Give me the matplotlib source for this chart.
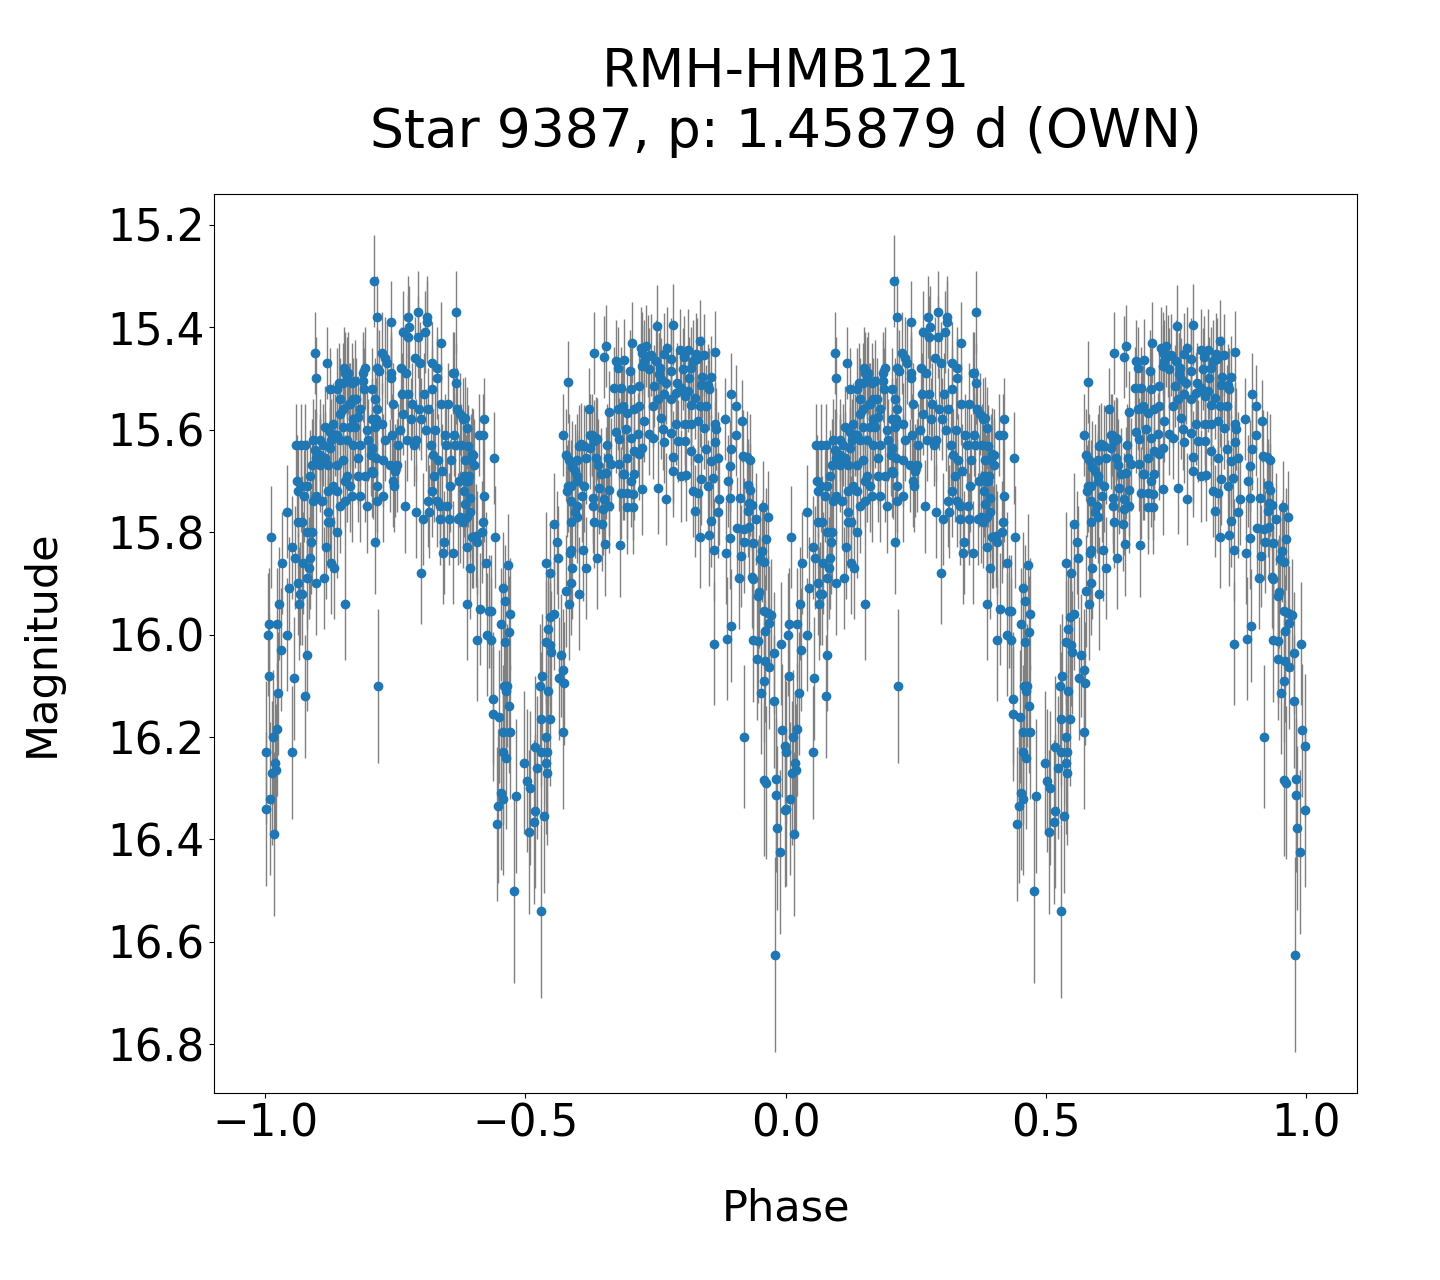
import numpy as np
import matplotlib
matplotlib.use('Agg')
import matplotlib.pyplot as plt
from matplotlib.ticker import MultipleLocator

# phase-folded light curve, one cycle (0..1); plotted twice (phase-1 and phase)
phase = [
    # 0.00-0.05
    0.001, 0.001, 0.004, 0.006, 0.006, 0.008, 0.010, 0.012, 0.014, 0.017, 0.019,
    0.021, 0.023, 0.023, 0.025, 0.027, 0.029, 0.031, 0.041, 0.042, 0.046,
    # 0.05-0.10
    0.052, 0.052, 0.054, 0.056, 0.058, 0.060, 0.062, 0.062, 0.062, 0.064, 0.066,
    0.068, 0.069, 0.071, 0.071, 0.073, 0.075, 0.077, 0.077, 0.079, 0.079, 0.079,
    0.080, 0.083, 0.085, 0.085, 0.087, 0.089, 0.090, 0.091, 0.091, 0.095, 0.095,
    0.097, 0.098, 0.098, 0.098,
    # 0.10-0.15
    0.104, 0.104, 0.104, 0.108, 0.110, 0.112, 0.114, 0.114, 0.116, 0.118, 0.120,
    0.120, 0.120, 0.120, 0.124, 0.124, 0.124, 0.125, 0.126, 0.127, 0.130, 0.130,
    0.132, 0.134, 0.137, 0.137, 0.137, 0.137, 0.137, 0.141, 0.143, 0.143, 0.143,
    0.143, 0.149, 0.149, 0.149, 0.149,
    # 0.15-0.20
    0.151, 0.153, 0.153, 0.153, 0.153, 0.156, 0.156, 0.156, 0.158, 0.160, 0.162,
    0.162, 0.162, 0.166, 0.166, 0.168, 0.168, 0.168, 0.172, 0.172, 0.175, 0.178,
    0.178, 0.178, 0.181, 0.181, 0.181, 0.187, 0.187, 0.189, 0.191, 0.191, 0.195,
    0.195, 0.197,
    # 0.20-0.25
    0.203, 0.204, 0.204, 0.204, 0.204, 0.206, 0.208, 0.210, 0.210, 0.210, 0.212,
    0.212, 0.214, 0.214, 0.214, 0.214, 0.214, 0.216, 0.218, 0.224, 0.225, 0.226,
    0.226, 0.230, 0.230, 0.233, 0.240, 0.241, 0.241, 0.241, 0.243, 0.245, 0.245,
    0.247, 0.249,
    # 0.25-0.30
    0.253, 0.255, 0.258, 0.260, 0.262, 0.265, 0.265, 0.268, 0.270, 0.272, 0.274,
    0.275, 0.275, 0.277, 0.280, 0.282, 0.285, 0.287, 0.290, 0.290, 0.294, 0.294,
    0.296, 0.298, 0.299,
    # 0.30-0.35
    0.300, 0.303, 0.305, 0.307, 0.308, 0.310, 0.311, 0.312, 0.313, 0.315, 0.318,
    0.320, 0.320, 0.320, 0.322, 0.325, 0.327, 0.330, 0.330, 0.330, 0.332, 0.335,
    0.336, 0.338, 0.338, 0.340, 0.342, 0.343, 0.345, 0.348,
    # 0.35-0.40
    0.350, 0.352, 0.353, 0.355, 0.357, 0.360, 0.361, 0.362, 0.363, 0.365, 0.367,
    0.367, 0.368, 0.370, 0.372, 0.374, 0.375, 0.377, 0.380, 0.380, 0.382, 0.382,
    0.383, 0.384, 0.384, 0.385, 0.387, 0.388, 0.388, 0.388, 0.390, 0.390, 0.392,
    0.394, 0.394, 0.394, 0.396, 0.397, 0.397, 0.399,
    # 0.40-0.45
    0.400, 0.401, 0.405, 0.407, 0.407, 0.410, 0.413, 0.417, 0.419, 0.419, 0.421,
    0.421, 0.425, 0.426, 0.429, 0.434, 0.434, 0.438, 0.438, 0.440, 0.442, 0.446,
    0.448,
    # 0.45-0.50
    0.450, 0.452, 0.453, 0.457, 0.457, 0.457, 0.457, 0.458, 0.460, 0.461, 0.463,
    0.463, 0.465, 0.467, 0.469, 0.469, 0.470, 0.471, 0.477, 0.481, 0.498,
    # 0.50-0.55
    0.502, 0.506, 0.508, 0.517, 0.519, 0.519, 0.523, 0.527, 0.529, 0.529, 0.529,
    0.531, 0.535, 0.539, 0.539, 0.539, 0.539, 0.542, 0.542, 0.544, 0.544, 0.547,
    0.547, 0.548, 0.548, 0.550,
    # 0.55-0.60
    0.554, 0.554, 0.560, 0.562, 0.564, 0.568, 0.573, 0.573, 0.573, 0.575, 0.577,
    0.577, 0.580, 0.581, 0.582, 0.583, 0.583, 0.585, 0.587, 0.587, 0.587, 0.587,
    0.587, 0.590, 0.590, 0.595, 0.595, 0.599,
    # 0.60-0.65
    0.600, 0.600, 0.600, 0.600, 0.602, 0.603, 0.606, 0.609, 0.610, 0.613, 0.613,
    0.616, 0.616, 0.622, 0.625, 0.625, 0.627, 0.629, 0.629, 0.631, 0.631, 0.632,
    0.635, 0.635, 0.637, 0.638, 0.640, 0.642, 0.645, 0.648, 0.650,
    # 0.65-0.70
    0.651, 0.651, 0.653, 0.654, 0.654, 0.657, 0.658, 0.660, 0.660, 0.661, 0.664,
    0.671, 0.674, 0.674, 0.677, 0.677, 0.680, 0.680, 0.682, 0.683, 0.683, 0.685,
    0.687, 0.687, 0.690, 0.690, 0.693, 0.696, 0.696, 0.696, 0.696,
    # 0.70-0.75
    0.701, 0.703, 0.703, 0.703, 0.705, 0.706, 0.706, 0.709, 0.709, 0.709, 0.716,
    0.719, 0.719, 0.719, 0.722, 0.725, 0.725, 0.725, 0.725, 0.728, 0.728, 0.732,
    0.736, 0.738, 0.738, 0.741, 0.745, 0.745, 0.748,
    # 0.75-0.80
    0.751, 0.752, 0.754, 0.755, 0.757, 0.759, 0.761, 0.761, 0.764, 0.766, 0.767,
    0.767, 0.770, 0.771, 0.772, 0.780, 0.780, 0.780, 0.780, 0.783, 0.783, 0.784,
    0.790, 0.790, 0.792, 0.793, 0.798, 0.799, 0.799,
    # 0.80-0.85
    0.802, 0.804, 0.806, 0.806, 0.806, 0.809, 0.812, 0.813, 0.815, 0.819, 0.819,
    0.819, 0.819, 0.822, 0.822, 0.825, 0.826, 0.828, 0.830, 0.831, 0.831, 0.831,
    0.835, 0.835, 0.836, 0.838, 0.838, 0.840, 0.844, 0.844, 0.848, 0.848,
    # 0.85-0.90
    0.851, 0.851, 0.852, 0.852, 0.856, 0.857, 0.857, 0.860, 0.862, 0.862, 0.864,
    0.864, 0.865, 0.867, 0.870, 0.870, 0.873, 0.883, 0.886, 0.888, 0.889, 0.893,
    0.893, 0.893, 0.895, 0.896, 0.896,
    # 0.90-0.95
    0.904, 0.905, 0.907, 0.910, 0.913, 0.915, 0.916, 0.918, 0.920, 0.920, 0.921,
    0.926, 0.928, 0.928, 0.929, 0.929, 0.931, 0.932, 0.935, 0.935, 0.937, 0.937,
    0.938, 0.943, 0.946, 0.947, 0.947, 0.949,
    # 0.95-1.00
    0.951, 0.953, 0.954, 0.956, 0.958, 0.958, 0.958, 0.959, 0.961, 0.961, 0.963,
    0.963, 0.967, 0.967, 0.969, 0.969, 0.973, 0.977, 0.978, 0.980, 0.982, 0.982,
    0.984, 0.989, 0.992, 0.994, 0.999, 0.999,
]

mag = [
    # 0.00-0.05
    16.34, 16.23, 16.00, 15.98, 16.08, 16.32, 15.81, 16.27, 16.20, 16.39, 16.25,
    16.265, 16.185, 15.98, 16.115, 15.94, 16.03, 15.86, 16.00, 15.76, 15.91,
    # 0.05-0.10
    16.23, 15.83, 16.085, 15.85, 15.63, 15.70, 15.78, 15.90, 15.72, 15.94, 15.92,
    15.71, 15.63, 15.78, 15.92, 15.86, 15.73, 15.63, 16.12, 15.80, 16.04, 15.71,
    15.89, 15.87, 15.85, 15.69, 15.82, 15.67, 15.80, 15.62, 15.74, 15.45, 15.64,
    15.50, 15.90, 15.655, 15.73,
    # 0.10-0.15
    15.65, 15.67, 15.62, 15.74, 15.63, 15.89, 15.655, 15.595, 15.83, 15.47, 15.78,
    15.67, 15.72, 15.76, 15.52, 15.635, 15.605, 15.78, 15.86, 15.62, 15.59, 15.71,
    15.87, 15.61, 15.80, 15.52, 15.61, 15.67, 15.72, 15.51, 15.54, 15.62, 15.57,
    15.75, 15.51, 15.595, 15.66, 15.56,
    # 0.15-0.20
    15.48, 15.94, 15.70, 15.74, 15.49, 15.62, 15.69, 15.50, 15.49, 15.55, 15.595,
    15.71, 15.55, 15.51, 15.73, 15.58, 15.63, 15.54, 15.505, 15.595, 15.54, 15.575,
    15.655, 15.69, 15.56, 15.63, 15.73, 15.49, 15.505, 15.52, 15.48, 15.69, 15.60,
    15.75, 15.62,
    # 0.20-0.25
    15.65, 15.52, 15.635, 15.58, 15.68, 15.685, 15.31, 15.82, 15.595, 15.54, 15.655,
    15.58, 15.38, 15.48, 15.56, 15.71, 15.74, 16.10, 15.485, 15.45, 15.59, 15.66,
    15.73, 15.46, 15.62, 15.47, 15.67, 15.39, 15.49, 15.50, 15.61, 15.70, 15.55,
    15.71, 15.68,
    # 0.25-0.30
    15.67, 15.63, 15.60, 15.48, 15.53, 15.41, 15.57, 15.75, 15.49, 15.62, 15.38,
    15.42, 15.53, 15.40, 15.58, 15.55, 15.63, 15.46, 15.76, 15.62, 15.37, 15.42,
    15.56, 15.47, 15.88,
    # 0.30-0.35
    15.58, 15.775, 15.53, 15.41, 15.60, 15.39, 15.38, 15.56, 15.74, 15.76, 15.63,
    15.47, 15.52, 15.72, 15.65, 15.69, 15.60, 15.48, 15.50, 15.74, 15.66, 15.75,
    15.775, 15.43, 15.55, 15.68, 15.84, 15.82, 15.61, 15.63,
    # 0.35-0.40
    15.75, 15.55, 15.775, 15.71, 15.66, 15.49, 15.84, 15.61, 15.49, 15.63, 15.37,
    15.51, 15.56, 15.775, 15.70, 15.57, 15.77, 15.63, 15.58, 15.78, 15.69, 15.72,
    15.578, 15.66, 15.745, 15.70, 15.596, 15.77, 15.83, 15.94, 15.632, 15.70, 15.69,
    15.76, 15.87, 15.734, 15.66, 15.81, 15.648, 15.81,
    # 0.40-0.45
    15.65, 15.67, 15.807, 15.82, 16.01, 15.61, 15.95, 15.80, 15.61, 15.78, 15.58,
    15.73, 15.86, 16.00, 15.955, 16.01, 15.955, 16.125, 16.155, 15.655, 15.81, 16.37,
    16.335,
    # 0.45-0.50
    16.16, 15.98, 16.31, 15.91, 16.19, 16.23, 16.32, 16.10, 15.935, 16.015, 16.11,
    16.24, 16.10, 15.865, 15.995, 16.14, 16.19, 15.96, 16.50, 16.315, 16.25,
    # 0.50-0.55
    16.285, 16.385, 16.30, 16.365, 16.345, 16.22, 16.26, 16.10, 16.23, 16.54, 16.165,
    16.08, 16.355, 16.25, 16.20, 16.015, 15.86, 16.27, 16.23, 16.11, 15.99, 16.165,
    15.965, 16.02, 15.88, 16.035,
    # 0.55-0.60
    15.96, 15.785, 15.82, 15.85, 16.085, 16.04, 16.07, 16.19, 15.61, 16.095, 15.915,
    15.649, 15.72, 15.71, 15.508, 15.94, 15.66, 15.84, 15.90, 15.835, 15.78, 15.74,
    15.71, 15.87, 15.673, 15.76, 15.68, 15.75,
    # 0.60-0.65
    15.77, 15.69, 15.70, 15.66, 15.92, 15.632, 15.628, 15.73, 15.835, 15.71, 15.632,
    15.87, 15.655, 15.56, 15.61, 15.635, 15.61, 15.75, 15.733, 15.45, 15.622, 15.78,
    15.616, 15.655, 15.85, 15.619, 15.67, 15.713, 15.687, 15.785, 15.755,
    # 0.65-0.70
    15.458, 15.735, 15.824, 15.437, 15.684, 15.63, 15.655, 15.75, 15.718, 15.565, 15.668,
    15.518, 15.466, 15.604, 15.48, 15.56, 15.619, 15.668, 15.826, 15.518, 15.723, 15.557,
    15.554, 15.687, 15.465, 15.687, 15.599, 15.567, 15.655, 15.723, 15.752,
    # 0.70-0.75
    15.486, 15.521, 15.616, 15.70, 15.43, 15.726, 15.752, 15.56, 15.642, 15.687, 15.609,
    15.515, 15.553, 15.648, 15.44, 15.45, 15.476, 15.635, 15.716, 15.466, 15.583, 15.437,
    15.456, 15.482, 15.609, 15.455, 15.554, 15.616, 15.515,
    # 0.75-0.80
    15.466, 15.398, 15.541, 15.713, 15.492, 15.479, 15.502, 15.577, 15.599, 15.53, 15.453,
    15.625, 15.51, 15.735, 15.44, 15.463, 15.486, 15.541, 15.606, 15.653, 15.681, 15.396,
    15.528, 15.59, 15.51, 15.622, 15.445, 15.518, 15.69,
    # 0.80-0.85
    15.482, 15.458, 15.534, 15.59, 15.622, 15.688, 15.525, 15.445, 15.499, 15.479, 15.551,
    15.59, 15.642, 15.467, 15.72, 15.759, 15.538, 15.453, 15.463, 15.583, 15.655, 15.723,
    15.428, 15.554, 15.809, 15.513, 15.697, 15.497, 15.454, 15.596, 15.554, 15.638,
    # 0.85-0.90
    15.512, 15.71, 15.52, 15.806, 15.497, 15.661, 15.778, 15.694, 15.835, 16.018, 15.59,
    15.625, 15.448, 15.599, 15.655, 15.761, 15.735, 15.579, 15.84, 16.008, 15.70, 15.671,
    15.733, 15.811, 15.983, 15.53, 15.638,
    # 0.90-0.95
    15.610, 15.553, 15.792, 15.890, 15.733, 15.847, 15.584, 15.652, 15.794, 16.199, 15.819,
    15.653, 15.709, 15.758, 15.744, 15.790, 15.718, 15.659, 15.747, 15.888, 15.892, 16.011,
    15.821, 15.775, 16.047, 15.924, 16.013, 15.916,
    # 0.95-1.00
    15.852, 16.114, 15.837, 15.751, 15.859, 15.955, 16.283, 16.090, 15.994, 16.051, 15.814,
    16.289, 15.770, 15.957, 15.977, 16.064, 15.962, 16.036, 16.130, 16.625, 16.282, 16.313,
    16.377, 16.424, 16.018, 16.187, 16.217, 16.342,
]

mag_err = [
    # 0.00-0.05
    0.15, 0.14, 0.12, 0.11, 0.12, 0.15, 0.10, 0.14, 0.13, 0.16, 0.14,
    0.13, 0.13, 0.11, 0.12, 0.11, 0.12, 0.10, 0.11, 0.09, 0.10,
    # 0.05-0.10
    0.13, 0.10, 0.12, 0.10, 0.08, 0.09, 0.09, 0.10, 0.09, 0.11, 0.10,
    0.09, 0.08, 0.09, 0.10, 0.10, 0.09, 0.08, 0.12, 0.10, 0.11, 0.09,
    0.10, 0.10, 0.10, 0.09, 0.10, 0.09, 0.10, 0.08, 0.09, 0.08, 0.08,
    0.08, 0.10, 0.09, 0.09,
    # 0.10-0.15
    0.08, 0.09, 0.08, 0.09, 0.08, 0.10, 0.09, 0.08, 0.10, 0.07, 0.09,
    0.08, 0.09, 0.09, 0.08, 0.08, 0.08, 0.09, 0.10, 0.08, 0.08, 0.09,
    0.10, 0.08, 0.09, 0.08, 0.08, 0.09, 0.09, 0.08, 0.08, 0.08, 0.08,
    0.09, 0.08, 0.08, 0.09, 0.08,
    # 0.15-0.20
    0.08, 0.11, 0.09, 0.09, 0.08, 0.08, 0.09, 0.08, 0.08, 0.08, 0.08,
    0.09, 0.08, 0.08, 0.09, 0.08, 0.08, 0.08, 0.08, 0.08, 0.08, 0.08,
    0.09, 0.09, 0.08, 0.08, 0.09, 0.08, 0.08, 0.08, 0.08, 0.09, 0.08,
    0.09, 0.08,
    # 0.20-0.25
    0.08, 0.08, 0.08, 0.08, 0.09, 0.09, 0.09, 0.10, 0.08, 0.08, 0.09,
    0.08, 0.08, 0.08, 0.08, 0.09, 0.09, 0.15, 0.08, 0.08, 0.08, 0.09,
    0.09, 0.08, 0.08, 0.08, 0.09, 0.08, 0.08, 0.08, 0.08, 0.09, 0.08,
    0.09, 0.09,
    # 0.25-0.30
    0.09, 0.08, 0.08, 0.08, 0.08, 0.08, 0.08, 0.09, 0.08, 0.08, 0.08,
    0.08, 0.08, 0.08, 0.08, 0.08, 0.08, 0.08, 0.09, 0.08, 0.08, 0.08,
    0.08, 0.08, 0.10,
    # 0.30-0.35
    0.08, 0.09, 0.08, 0.08, 0.08, 0.08, 0.08, 0.08, 0.09, 0.09, 0.08,
    0.08, 0.08, 0.09, 0.09, 0.09, 0.08, 0.08, 0.08, 0.09, 0.09, 0.09,
    0.09, 0.08, 0.08, 0.09, 0.10, 0.10, 0.08, 0.08,
    # 0.35-0.40
    0.09, 0.08, 0.09, 0.09, 0.09, 0.08, 0.10, 0.08, 0.08, 0.08, 0.08,
    0.08, 0.08, 0.09, 0.09, 0.08, 0.09, 0.08, 0.08, 0.09, 0.09, 0.09,
    0.08, 0.09, 0.09, 0.09, 0.08, 0.09, 0.10, 0.11, 0.08, 0.09, 0.09,
    0.09, 0.10, 0.09, 0.09, 0.10, 0.09, 0.10,
    # 0.40-0.45
    0.09, 0.09, 0.10, 0.10, 0.12, 0.08, 0.11, 0.10, 0.08, 0.09, 0.08,
    0.09, 0.10, 0.12, 0.11, 0.12, 0.11, 0.13, 0.13, 0.09, 0.10, 0.15,
    0.15,
    # 0.45-0.50
    0.13, 0.11, 0.15, 0.11, 0.13, 0.14, 0.15, 0.12, 0.11, 0.12, 0.12,
    0.14, 0.12, 0.10, 0.11, 0.13, 0.13, 0.11, 0.18, 0.15, 0.14,
    # 0.50-0.55
    0.14, 0.16, 0.15, 0.16, 0.15, 0.14, 0.14, 0.12, 0.14, 0.17, 0.13,
    0.12, 0.15, 0.14, 0.13, 0.12, 0.10, 0.14, 0.13, 0.12, 0.11, 0.13,
    0.11, 0.12, 0.10, 0.12,
    # 0.55-0.60
    0.11, 0.10, 0.10, 0.10, 0.12, 0.12, 0.12, 0.15, 0.08, 0.12, 0.11,
    0.09, 0.09, 0.09, 0.08, 0.11, 0.09, 0.10, 0.10, 0.10, 0.09, 0.09,
    0.09, 0.10, 0.09, 0.09, 0.09, 0.09,
    # 0.60-0.65
    0.09, 0.09, 0.09, 0.09, 0.11, 0.08, 0.08, 0.09, 0.10, 0.09, 0.08,
    0.10, 0.09, 0.08, 0.08, 0.08, 0.08, 0.09, 0.09, 0.08, 0.08, 0.09,
    0.08, 0.09, 0.10, 0.08, 0.09, 0.09, 0.09, 0.09, 0.09,
    # 0.65-0.70
    0.08, 0.09, 0.10, 0.08, 0.09, 0.08, 0.09, 0.09, 0.09, 0.08, 0.09,
    0.08, 0.08, 0.08, 0.08, 0.08, 0.08, 0.09, 0.10, 0.08, 0.09, 0.08,
    0.08, 0.09, 0.08, 0.09, 0.08, 0.08, 0.09, 0.09, 0.09,
    # 0.70-0.75
    0.08, 0.08, 0.08, 0.09, 0.08, 0.09, 0.09, 0.08, 0.08, 0.09, 0.08,
    0.08, 0.08, 0.09, 0.08, 0.08, 0.08, 0.08, 0.09, 0.08, 0.08, 0.08,
    0.08, 0.08, 0.08, 0.08, 0.08, 0.08, 0.08,
    # 0.75-0.80
    0.08, 0.08, 0.08, 0.09, 0.08, 0.08, 0.08, 0.08, 0.08, 0.08, 0.08,
    0.08, 0.08, 0.09, 0.08, 0.08, 0.08, 0.08, 0.08, 0.09, 0.09, 0.08,
    0.08, 0.08, 0.08, 0.08, 0.08, 0.08, 0.09,
    # 0.80-0.85
    0.08, 0.08, 0.08, 0.08, 0.08, 0.09, 0.08, 0.08, 0.08, 0.08, 0.08,
    0.08, 0.08, 0.08, 0.09, 0.09, 0.08, 0.08, 0.08, 0.08, 0.09, 0.09,
    0.08, 0.08, 0.10, 0.08, 0.09, 0.08, 0.08, 0.08, 0.08, 0.08,
    # 0.85-0.90
    0.08, 0.09, 0.08, 0.10, 0.08, 0.09, 0.09, 0.09, 0.10, 0.12, 0.08,
    0.08, 0.08, 0.08, 0.09, 0.09, 0.09, 0.08, 0.10, 0.12, 0.09, 0.09,
    0.09, 0.10, 0.11, 0.08, 0.08,
    # 0.90-0.95
    0.08, 0.08, 0.10, 0.10, 0.09, 0.10, 0.08, 0.09, 0.10, 0.14, 0.10,
    0.09, 0.09, 0.09, 0.09, 0.10, 0.09, 0.09, 0.09, 0.10, 0.10, 0.12,
    0.10, 0.09, 0.12, 0.11, 0.12, 0.11,
    # 0.95-1.00
    0.10, 0.12, 0.10, 0.09, 0.10, 0.11, 0.15, 0.12, 0.11, 0.12, 0.10,
    0.15, 0.09, 0.11, 0.11, 0.12, 0.11, 0.12, 0.13, 0.19, 0.15, 0.15,
    0.16, 0.16, 0.12, 0.13, 0.14, 0.15,
]

ph = np.array(phase)
m = np.array(mag)
e = np.array(mag_err)

# show two cycles
x = np.concatenate([ph - 1, ph])
y = np.concatenate([m, m])
yerr = np.concatenate([e, e])

fig, ax = plt.subplots(figsize=(14.4, 12.8), dpi=100)
ax.errorbar(x, y, yerr=yerr, fmt='o', color='C0', ecolor='gray', elinewidth=1)
ax.invert_yaxis()
ax.xaxis.set_major_locator(MultipleLocator(0.5))

ax.set_title('RMH-HMB121\nStar 9387, p: 1.45879 d (OWN)', fontsize=38.5, pad=34)
ax.set_xlabel('Phase', fontsize=31, labelpad=30)
ax.set_ylabel('Magnitude', fontsize=31, labelpad=32)
ax.tick_params(labelsize=31.5)

fig.subplots_adjust(left=0.1486, right=0.9424, top=0.8484, bottom=0.1461)
fig.savefig('out.png', dpi=100)
